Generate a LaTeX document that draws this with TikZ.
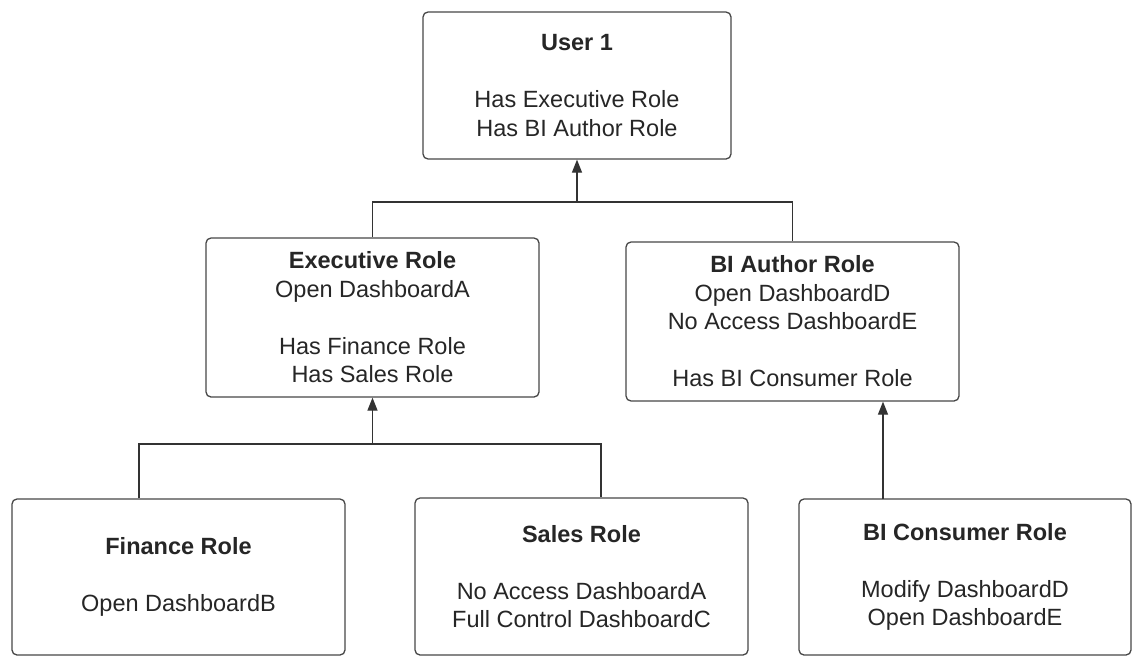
\documentclass[tikz,border=0pt]{standalone}
\usepackage{fontspec}
\setmainfont{Liberation Sans}
\usetikzlibrary{arrows.meta}
\begin{document}
\begin{tikzpicture}[x=1pt,y=-1pt,
  rolebox/.style={draw=black!72, line width=1.3pt, rounded corners=5pt, fill=white,
    minimum width=333pt, minimum height=159pt, inner sep=0pt, align=center,
    text=black!85, font=\fontsize{23.5}{28.5}\selectfont},
  link/.style={draw=black!80, line width=1.3pt},
  arrowlink/.style={link, -{Triangle[width=10pt,length=13pt]}}]
\useasboundingbox (0,0) rectangle (1132,656);
\fill[white] (0,0) rectangle (1132,656);
\node[rolebox, minimum width=308pt, minimum height=147pt] (user) at (577,85.5)
  {\textbf{User 1}\\[28.5pt]Has Executive Role\\Has BI Author Role};
\node[rolebox] (exec) at (372.5,317.5)
  {\textbf{Executive Role}\\Open DashboardA\\[28.5pt]Has Finance Role\\Has Sales Role};
\node[rolebox] (bia) at (792.5,321.5)
  {\textbf{BI Author Role}\\Open DashboardD\\No Access DashboardE\\[28.5pt]Has BI Consumer Role};
\node[rolebox, minimum height=156pt] (fin) at (178.5,577)
  {\textbf{Finance Role}\\[28.5pt]Open DashboardB};
\node[rolebox, minimum height=157pt] (sales) at (581.5,576.5)
  {\textbf{Sales Role}\\[28.5pt]No Access DashboardA\\Full Control DashboardC};
\node[rolebox, minimum width=332pt, minimum height=156pt] (bic) at (965,577)
  {\textbf{BI Consumer Role}\\[28.5pt]Modify DashboardD\\Open DashboardE};
\coordinate (bus1) at (577,202);
\coordinate (bus2) at (372.5,444);
\coordinate (c3) at (883,499);
\draw[link] (exec.north) |- (bus1) -| (bia.north);
\draw[arrowlink] (bus1) -- (user.south);
\draw[link] (fin.north -| 139,0) |- (bus2) -| (sales.north -| 601,0);
\draw[arrowlink] (bus2) -- (exec.south);
\draw[arrowlink] (c3) -- (c3 |- bia.south);
\end{tikzpicture}
\end{document}
